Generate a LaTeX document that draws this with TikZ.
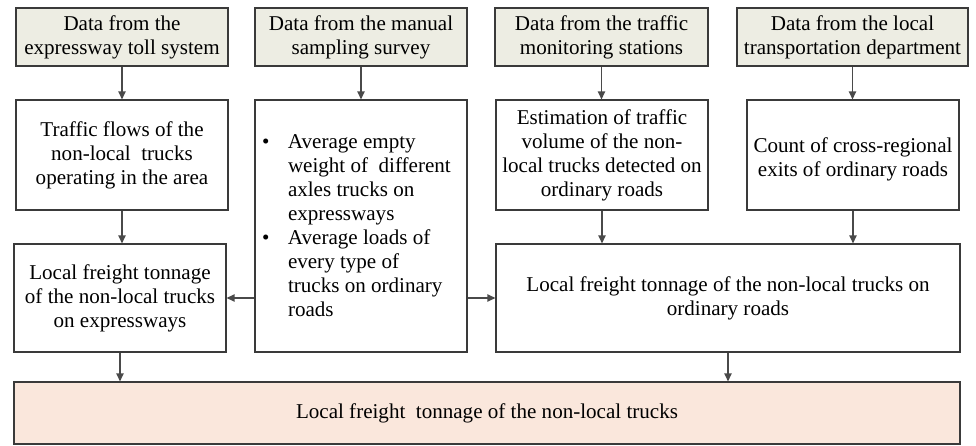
\documentclass[tikz,border=0pt]{standalone}
\usepackage{fontspec}
\setmainfont{Liberation Serif}
\usetikzlibrary{arrows.meta,shadows}
\definecolor{topfill}{HTML}{EDEDE3}
\definecolor{botfill}{HTML}{FAE7DC}
\definecolor{edgec}{HTML}{3A3A3A}
\definecolor{linec}{HTML}{4A4A4A}
\begin{document}
\begin{tikzpicture}[x=0.75pt,y=-0.75pt,
  box/.style={draw=edgec, line width=0.9pt, fill=white, align=center, inner sep=0pt,
    font=\fontsize{15.8}{18}\selectfont,
    drop shadow={shadow xshift=1.1pt, shadow yshift=-1.1pt, fill=black!40}},
  src/.style={box, fill=topfill},
  fin/.style={box, fill=botfill},
  arr/.style={draw=linec, line width=1pt, -{Triangle[length=6pt,width=5.5pt]}}]
\useasboundingbox (0,0) rectangle (976,446);
% top row
\node[src, minimum width=159pt, minimum height=43.5pt] (a1) at (122,37) {Data from the\\expressway toll system};
\node[src, minimum width=159pt, minimum height=43.5pt] (a2) at (361,37) {Data from the manual\\sampling survey};
\node[src, minimum width=159.75pt, minimum height=43.5pt] (a3) at (601.5,37) {Data from the traffic\\monitoring stations};
\node[src, minimum width=173.25pt, minimum height=43.5pt] (a4) at (852.5,37) {Data from the local\\transportation department};
% second row
\node[box, minimum width=159pt, minimum height=82.5pt] (b1) at (122,155) {Traffic flows of the\\non-local~ trucks\\operating in the area};
\node[box, minimum width=159pt, minimum height=189pt] (b2) at (361,226) {\raisebox{-4.5pt}{\parbox{148.5pt}{\raggedright
\makebox[19.5pt][l]{\textbullet}Average empty\\
\hspace*{19.5pt}weight of~ different\\
\hspace*{19.5pt}axles trucks on\\
\hspace*{19.5pt}expressways\\
\makebox[19.5pt][l]{\textbullet}Average loads of\\
\hspace*{19.5pt}every type of\\
\hspace*{19.5pt}trucks on ordinary\\
\hspace*{19.5pt}roads}}};
\node[box, minimum width=159pt, minimum height=82.5pt] (b3) at (602,155) {Estimation of traffic\\volume of the non-\\local trucks detected on\\ordinary roads};
\node[box, minimum width=159pt, minimum height=82.5pt] (b4) at (853,155) {\mbox{}\\Count of cross-regional\\exits of ordinary roads};
% third row
\node[box, minimum width=159pt, minimum height=81pt] (c1) at (120,298) {Local freight tonnage\\of the non-local trucks\\on expressways};
\node[box, minimum width=348pt, minimum height=81pt] (c3) at (728,298) {Local freight tonnage of the non-local trucks on\\ordinary roads};
% bottom
\node[fin, minimum width=709.5pt, minimum height=46.5pt] (d) at (487,413) {Local freight~ tonnage of the non-local trucks};
% connectors
\draw[arr] (a1.south) -- (a1.south |- b1.north);
\draw[arr] (a2.south) -- (a2.south |- b2.north);
\draw[arr] (a3.south) -- (a3.south |- b3.north);
\draw[arr] (a4.south) -- (a4.south |- b4.north);
\draw[arr] (b1.south) -- (b1.south |- c1.north);
\draw[arr] (b3.south) -- (b3.south |- c3.north);
\draw[arr] (b4.south) -- (b4.south |- c3.north);
\draw[arr] (b2.west |- c1.east) -- (c1.east);
\draw[arr] (b2.east |- c3.west) -- (c3.west);
\draw[arr] (c1.south) -- (c1.south |- d.north);
\draw[arr] (c3.south) -- (c3.south |- d.north);
\end{tikzpicture}
\end{document}
